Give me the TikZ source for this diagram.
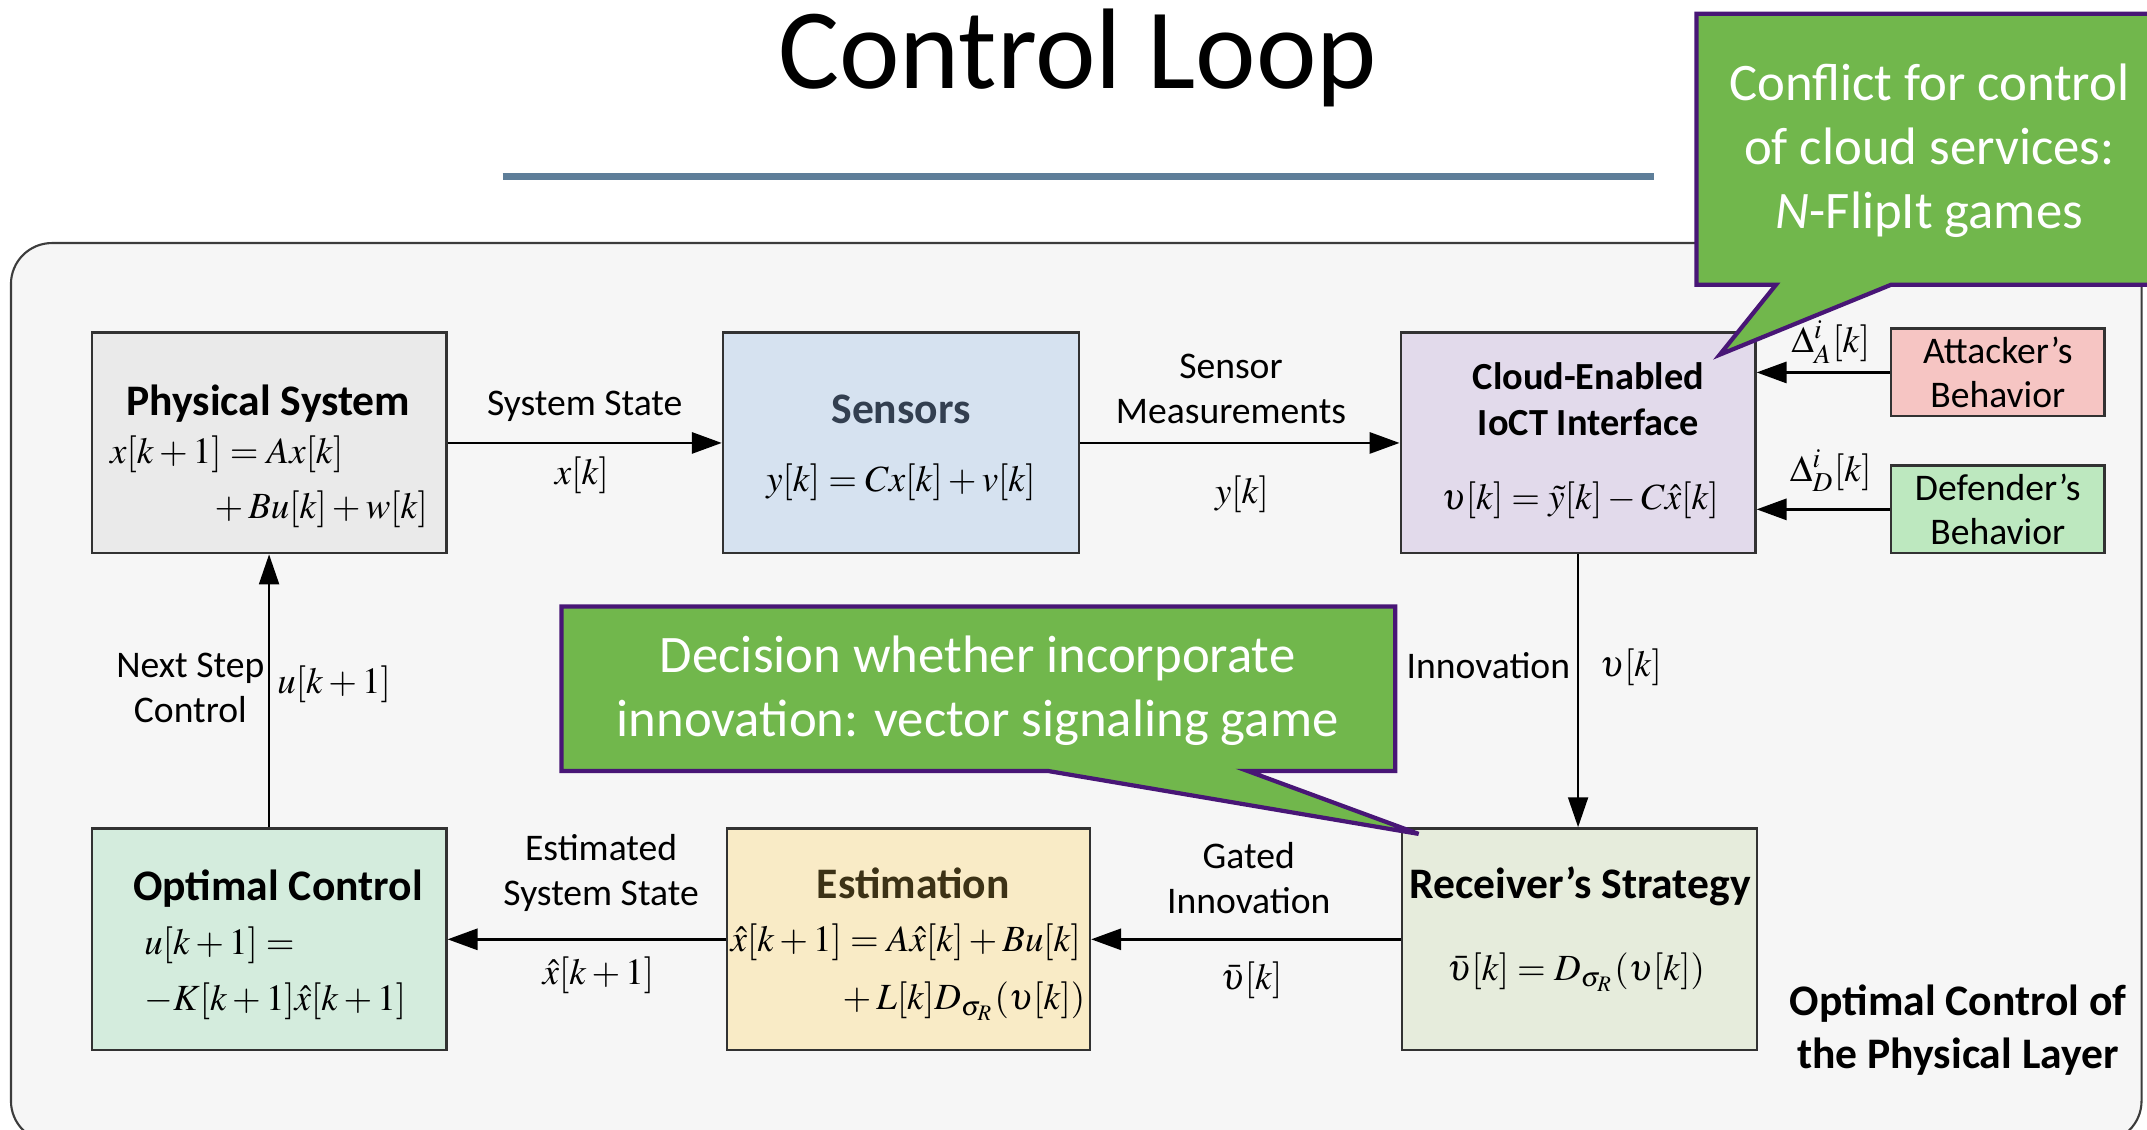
\documentclass[tikz,border=0pt]{standalone}
\usepackage{mathptmx}
\usepackage[no-math]{fontspec}
\setmainfont{Carlito}
\usetikzlibrary{arrows.meta}

\definecolor{panelfill}{RGB}{246,246,246}
\definecolor{panelline}{RGB}{60,60,60}
\definecolor{boxline}{RGB}{50,50,50}
\definecolor{rulecol}{RGB}{94,126,153}
\definecolor{physfill}{RGB}{234,234,234}
\definecolor{sensfill}{RGB}{214,226,240}
\definecolor{cloudfill}{RGB}{226,218,235}
\definecolor{attfill}{RGB}{246,197,195}
\definecolor{deffill}{RGB}{189,232,191}
\definecolor{optfill}{RGB}{212,236,221}
\definecolor{estfill}{RGB}{249,235,198}
\definecolor{recvfill}{RGB}{230,236,220}
\definecolor{senstext}{RGB}{51,63,80}
\definecolor{esttext}{RGB}{60,50,22}
\definecolor{bubblefill}{RGB}{113,183,76}
\definecolor{bubbleline}{RGB}{72,22,118}

\begin{document}
\begin{tikzpicture}[x=0.013693cm, y=-0.013693cm,
  flow/.style={->, >={Triangle[length=8.5pt,width=6pt]}, line width=0.75pt},
  flowthin/.style={->, >={Triangle[length=8.5pt,width=5.7pt]}, line width=0.5pt}]
    \def \u {0.013693cm}
    \tikzset{block/.style 2 args={draw=boxline, line width=0.7pt, inner sep=0pt, minimum width=#1*\u, minimum height=#2*\u}}
    \tikzset{title/.style={inner sep=0pt, font=\fontsize{12.4}{12.86}\selectfont\bfseries},
    lbl/.style={inner sep=0pt, align=center, font=\fontsize{10.7}{12.8}\selectfont},
    eq/.style={inner sep=0pt, font=\fontsize{10.5}{12}\selectfont},
    bubble/.style={fill=bubblefill, draw=bubbleline, line width=1.2pt},
    bubbletext/.style={inner sep=0pt, text=white, align=center, font=\fontsize{15}{18.25}\selectfont}}
    \useasboundingbox (0,0) rectangle (1568,825);

    % heading
    \node[inner sep=0pt, font=\fontsize{32.6}{36}\selectfont] (heading) at (787,42) {Control Loop};
    \draw[rulecol, line width=2pt] (367,129) -- (1208,129);

    % panel
    \draw[panelline, fill=panelfill, line width=0.6pt, rounded corners=0.41cm] (8,177.5) rectangle (1564,834);

    % blocks
    \node[block={259}{161}, fill=physfill] (phys) at (196.5,323.5) {};
    \node[block={260}{161}, fill=sensfill] (sens) at (658,323.5) {};
    \node[block={259}{161}, fill=cloudfill] (cloud) at (1152.5,323.5) {};
    \node[block={156}{64}, fill=attfill, align=center, font=\fontsize{10.7}{12.5}\selectfont] (attacker) at (1459,272) {Attacker’s\\Behavior};
    \node[block={156}{64}, fill=deffill, align=center, font=\fontsize{10.7}{12.5}\selectfont] (defender) at (1459,372) {Defender’s\\Behavior};
    \node[block={259}{162}, fill=optfill] (optc) at (196.5,686) {};
    \node[block={265}{162}, fill=estfill] (est) at (663.5,686) {};
    \node[block={259}{162}, fill=recvfill] (recv) at (1153.5,686) {};

    % block contents
    \node[title] (phys-title) at (196,295) {Physical System};
    \node[eq, anchor=west] (phys-eq1) at (80,332) {$x[k+1]=Ax[k]$};
    \node[eq, anchor=east] (phys-eq2) at (313,372) {${}+Bu[k]+w[k]$};
    \node[title, text=senstext] (sens-title) at (658,299) {Sensors};
    \node[eq] (sens-eq) at (658,352) {$y[k]=Cx[k]+v[k]$};
    \node[title, align=center, font=\fontsize{10.9}{12.86}\selectfont\bfseries] (cloud-title) at (1160,291.5) {Cloud-Enabled\\IoCT Interface};
    \node[eq] (cloud-eq) at (1154,365) {$\upsilon[k]=\tilde{y}[k]-C\hat{x}[k]$};
    \node[title] (optc-title) at (203,649) {Optimal Control};
    \node[eq, anchor=west] (optc-eq1) at (105,690) {$u[k+1]={}$};
    \node[eq, anchor=west] (optc-eq2) at (105,731) {$-K[k+1]\hat{x}[k+1]$};
    \node[title, text=esttext] (est-title) at (667,645) {Estimation};
    \node[eq, anchor=west] (est-eq1) at (533,688) {$\hat{x}[k+1]=A\hat{x}[k]+Bu[k]$};
    \node[eq, anchor=east] (est-eq2) at (793,731) {${}+L[k]D_{\sigma_R}(\upsilon[k])$};
    \node[title] (recv-title) at (1154,647) {Receiver’s Strategy};
    \node[eq] (recv-eq) at (1151,710) {$\bar{\upsilon}[k]=D_{\sigma_R}(\upsilon[k])$};

    % connectors
    \draw[flow] (phys) -- (sens);
    \draw[flow] (sens) -- (cloud);
    \draw[flow] (attacker.west) -- (attacker.west -| cloud.east);
    \draw[flow] (defender.west) -- (defender.west -| cloud.east);
    \draw[flowthin] (cloud.south) -- (cloud.south |- recv.north);
    \draw[flow] (recv) -- (est);
    \draw[flow] (est) -- (optc);
    \draw[flowthin] (optc) -- (phys);

    % connector labels
    \node[lbl] (lbl-state) at (427,297) {System State};
    \node[eq] (lbl-x) at (425,347) {$x[k]$};
    \node[lbl] (lbl-meas) at (899,284) {Sensor\\Measurements};
    \node[eq] (lbl-y) at (907,361) {$y[k]$};
    \node[eq] (lbl-dA) at (1337,250) {$\Delta^{i}_{A}[k]$};
    \node[eq] (lbl-dD) at (1337,344) {$\Delta^{i}_{D}[k]$};
    \node[lbl] (lbl-innov) at (1087,486) {Innovation};
    \node[eq] (lbl-v) at (1191,487) {$\upsilon[k]$};
    \node[lbl] (lbl-gated) at (912,641) {Gated\\Innovation};
    \node[eq] (lbl-vbar) at (914,716) {$\bar{\upsilon}[k]$};
    \node[lbl] (lbl-est) at (439,637.5) {Estimated\\System State};
    \node[eq] (lbl-xhat) at (437,712) {$\hat{x}[k+1]$};
    \node[lbl] (lbl-next) at (139,502.5) {Next Step\\Control};
    \node[eq] (lbl-u) at (244,500) {$u[k+1]$};

    \node[inner sep=0pt, align=center, font=\fontsize{12.4}{15.1}\selectfont\bfseries] (layer) at (1430,752.5) {Optimal Control of\\the Physical Layer};

    % speech bubbles
    \filldraw[bubble] (410,443) -- (1019,443) -- (1019,563) -- (911,563) -- (1036,609) -- (765,563) -- (410,563) -- cycle;
    \node[bubbletext] (decision) at (714,504.5) {Decision whether incorporate\\innovation: vector signaling game};
    \filldraw[bubble] (1239,10) -- (1585,10) -- (1585,208) -- (1381,208) -- (1256,259) -- (1297,208) -- (1239,208) -- cycle;
    \node[bubbletext] (conflict) at (1409,110) {Conflict for control\\of cloud services:\\\textit{N}-FlipIt games};
\end{tikzpicture}
\end{document}
